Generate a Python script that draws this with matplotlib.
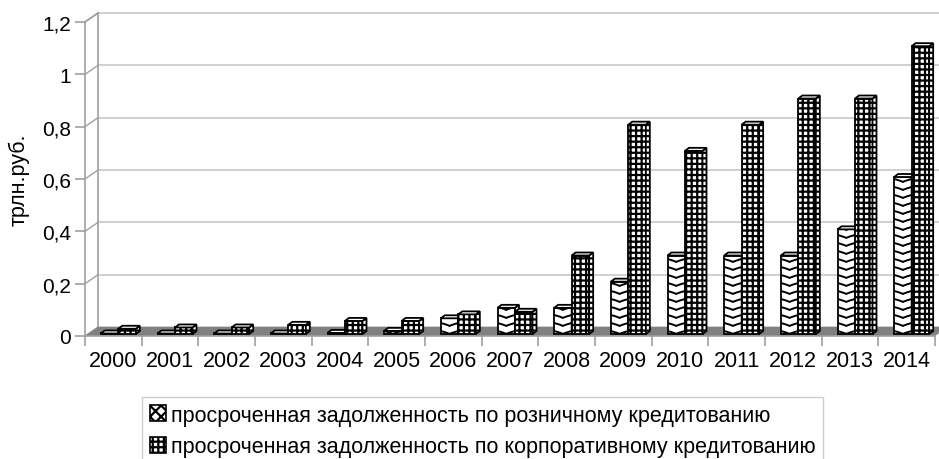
import numpy as np
import matplotlib
matplotlib.use("Agg")
import matplotlib.pyplot as plt
from matplotlib.patches import Polygon, Rectangle, Patch
from matplotlib.lines import Line2D

plt.rcParams["font.family"] = ["Liberation Sans", "DejaVu Sans"]
plt.rcParams["hatch.linewidth"] = 1.6

years = ["2000", "2001", "2002", "2003", "2004", "2005", "2006", "2007",
         "2008", "2009", "2010", "2011", "2012", "2013", "2014"]
retail = [0.002, 0.002, 0.002, 0.002, 0.004, 0.012, 0.06, 0.1,
          0.1, 0.2, 0.3, 0.3, 0.3, 0.4, 0.6]
corporate = [0.02, 0.025, 0.025, 0.035, 0.05, 0.05, 0.075, 0.085,
             0.3, 0.8, 0.7, 0.8, 0.9, 0.9, 1.1]
yticks = [0, 0.2, 0.4, 0.6, 0.8, 1.0, 1.2]
ytick_labels = ["0", "0,2", "0,4", "0,6", "0,8", "1", "1,2"]
y_label = "трлн.руб."
series_labels = ["просроченная задолженность по розничному кредитованию",
                 "просроченная задолженность по корпоративному кредитованию"]

W, H = 939, 460
fig = plt.figure(figsize=(W / 100, H / 100), dpi=100)
ax = fig.add_axes([85 / W, (H - 337) / H, 850 / W, 314 / H])
n = len(years)
ax.set_xlim(0, n)
ax.set_ylim(0, 1.2)

# pixel -> data scale factors
px_x = n / 850.0
px_y = 1.2 / 314.0

grid_col = "#c8c8c8"
axis_col = "#a0a0a0"

# depth of the walls
dx, dy = 13 * px_x, 9 * px_y

# back wall gridlines and side wall diagonals
for v in yticks:
    ax.add_line(Line2D([dx, n + dx], [v + dy, v + dy], color=grid_col, lw=1.2,
                       clip_on=False, zorder=1))
    ax.add_line(Line2D([0, dx], [v, v + dy], color=axis_col, lw=1.0,
                       clip_on=False, zorder=1))
ax.add_line(Line2D([dx, dx], [dy, 1.2 + dy], color=axis_col, lw=1.2,
                   clip_on=False, zorder=1))

# floor
ax.add_patch(Polygon([(0, 0), (dx, dy), (n + dx, dy), (n, 0)], closed=True,
                     facecolor="#808080", edgecolor="none", clip_on=False, zorder=2))

# bar geometry
w = 17.5 * px_x
bx, by = 5 * px_x, 2 * px_y
ddx, ddy = 4 * px_x, 3 * px_y
period = 8 * px_y
amp = 3.0 * px_y


def draw_box(x0, v, z, hatch=None):
    x1 = x0 + w
    y0, y1 = by, by + v
    front = Rectangle((x0, y0), w, v, facecolor="white", edgecolor="black",
                      lw=1.3, hatch=hatch, clip_on=False, zorder=z)
    ax.add_patch(front)
    side = Polygon([(x1, y0), (x1 + ddx, y0 + ddy), (x1 + ddx, y1 + ddy), (x1, y1)],
                   closed=True, facecolor="white", edgecolor="black", lw=1.3,
                   hatch="---" if hatch else None, clip_on=False, zorder=z + 1)
    ax.add_patch(side)
    top = Polygon([(x0, y1), (x1, y1), (x1 + ddx, y1 + ddy), (x0 + ddx, y1 + ddy)],
                  closed=True, facecolor="white", edgecolor="black", lw=1.3,
                  clip_on=False, zorder=z + 1)
    ax.add_patch(top)
    return front


def draw_chevrons(front, x0, v, z):
    # stacked soft "v" strokes filling the front face
    x1 = x0 + w
    xs = np.linspace(x0, x1, 25)
    t = (xs - x0) / (x1 - x0)
    k = 0
    while by + k * period < by + v + amp:
        yk = by + k * period
        ys = yk + amp * np.abs(2 * t - 1) ** 0.8
        ln = Line2D(xs, ys, color="black", lw=1.4, zorder=z)
        ax.add_line(ln)
        ln.set_clip_path(front)
        k += 1


for i in range(n):
    c = i + 0.5 + bx
    z = 10 + 10 * i
    xr = c - w
    fr = draw_box(xr, retail[i], z)
    draw_chevrons(fr, xr, retail[i], z + 0.5)
    draw_box(c, corporate[i], z + 3, hatch="+++")

# axes styling
for s in ("top", "right"):
    ax.spines[s].set_visible(False)
for s in ("left", "bottom"):
    ax.spines[s].set_color(axis_col)
    ax.spines[s].set_linewidth(1.2)
    ax.spines[s].set_zorder(3)
ax.add_line(Line2D([0, dx], [1.2, 1.2 + dy], color=axis_col, lw=1.2, clip_on=False))

ax.set_yticks(yticks)
ax.set_yticklabels(ytick_labels, fontsize=15)
ax.set_xticks(np.arange(n) + 0.5)
ax.set_xticklabels(years, fontsize=15.5)
ax.set_xticks(np.arange(n + 1), minor=True)
ax.tick_params(axis="x", which="major", length=0, pad=10)
ax.tick_params(axis="x", which="minor", length=7, color=axis_col, width=1.2)
ax.tick_params(axis="y", length=7, color=axis_col, width=1.2, pad=3)
ax.set_ylabel(y_label, fontsize=15.5, labelpad=9)
ax.patch.set_visible(False)

# legend
handles = [Patch(facecolor="white", edgecolor="black", hatch="xxx", lw=1.2),
           Patch(facecolor="white", edgecolor="black", hatch="+++", lw=1.2)]
leg = fig.legend(handles, series_labels, loc="upper left",
                 bbox_to_anchor=(142 / W, 1 - 398 / H), fontsize=15.5,
                 frameon=True, fancybox=False, handlelength=0.75, handleheight=0.75,
                 handletextpad=0.25, borderpad=0.35, labelspacing=0.5,
                 borderaxespad=0)
leg.get_frame().set_edgecolor("#c0c0c0")
leg.get_frame().set_linewidth(1.0)

fig.savefig("out.png", dpi=100)
